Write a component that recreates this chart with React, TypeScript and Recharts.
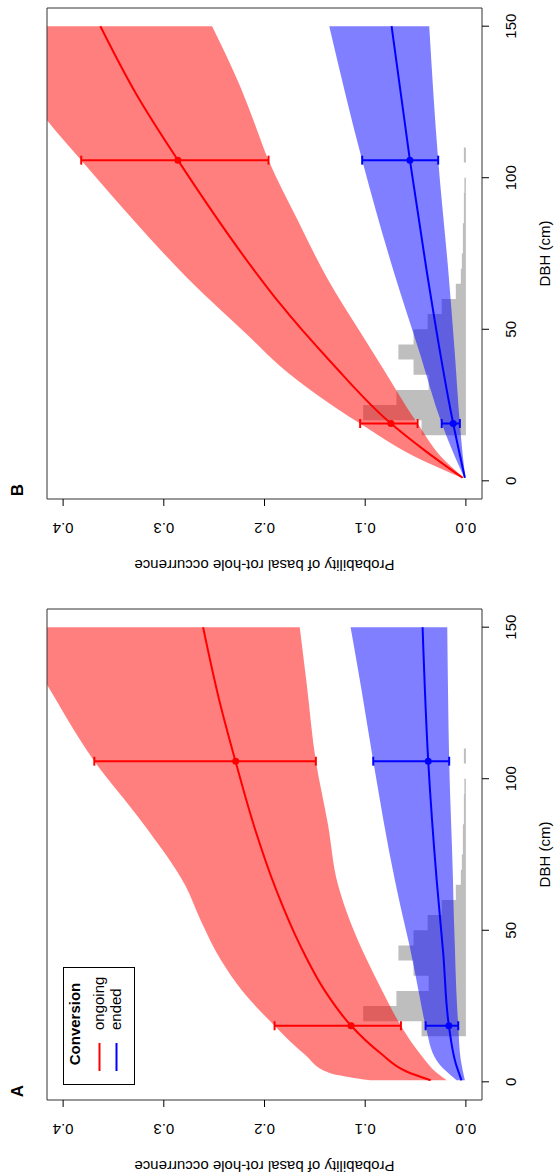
import React from "react";
import {
  ComposedChart,
  Area,
  Line,
  Scatter,
  ErrorBar,
  XAxis,
  YAxis,
  ReferenceArea,
  Legend,
} from "recharts";

const FONT = "'Liberation Sans', Arial, Helvetica, sans-serif";
const RED = "#ff0000";
const BLUE = "#0000ff";

// DBH distribution (5 cm bins), drawn in probability units behind the fits
const histEdges = [15, 20, 25, 30, 35, 40, 45, 50, 55, 60, 65, 70, 75, 80, 85, 90, 95, 100, 105, 110];
const histHeights = [0.044, 0.102, 0.069, 0.037, 0.052, 0.067, 0.052, 0.038, 0.024, 0.01, 0.005, 0.004, 0.003, 0.003, 0.002, 0.002, 0.0015, 0, 0.002];

// ---- panel A ----
const aOnLineDbh = [0.5, 3.4, 9.5, 18.5, 30, 44.6, 63, 84, 106, 126, 150];
const aOnLineP = [0.035, 0.059, 0.085, 0.114, 0.14, 0.164, 0.188, 0.21, 0.229, 0.245, 0.261];
const aOnBandDbh = [0.5, 3, 9, 18.5, 30, 40, 53, 65, 85, 105.8, 131, 150];
const aOnBandLo = [0.019, 0.029, 0.045, 0.0645, 0.083, 0.098, 0.115, 0.127, 0.137, 0.149, 0.158, 0.165];
const aOnBandHi = [0.095, 0.136, 0.16, 0.19, 0.222, 0.243, 0.263, 0.279, 0.32, 0.369, 0.416, 0.45];
const aEndLineDbh = [0.5, 6.2, 18.5, 42.4, 66.5, 105.8, 150];
const aEndLineP = [0.0043, 0.0102, 0.0169, 0.0225, 0.029, 0.0374, 0.043];
const aEndBandDbh = [0.5, 7, 18.5, 30, 45, 55, 66.5, 105.8, 130, 150];
const aEndBandLo = [0.001, 0.005, 0.0076, 0.0095, 0.011, 0.012, 0.0128, 0.0166, 0.0178, 0.0185];
const aEndBandHi = [0.0092, 0.029, 0.04, 0.047, 0.056, 0.063, 0.0705, 0.092, 0.104, 0.1145];
const aPointDbh = [18.5, 105.8];
const aOnPoint = [0.114, 0.2286];
const aOnLo = [0.0645, 0.149];
const aOnHi = [0.19, 0.369];
const aEndPoint = [0.0169, 0.0374];
const aEndLo = [0.0076, 0.0166];
const aEndHi = [0.04, 0.092];

// ---- panel B ----
const bOnLineDbh = [1, 9.8, 18.9, 38.8, 59, 66.7, 105.8, 127.4, 150];
const bOnLineP = [0.0033, 0.04, 0.0744, 0.133, 0.186, 0.204, 0.286, 0.327, 0.363];
const bOnBandDbh = [1, 7, 18.9, 38, 47.5, 67, 86, 105.8, 119, 130, 150];
const bOnBandLo = [0.002, 0.022, 0.048, 0.084, 0.102, 0.138, 0.167, 0.196, 0.211, 0.224, 0.252];
const bOnBandHi = [0.004, 0.045, 0.105, 0.185, 0.215, 0.277, 0.33, 0.382, 0.416, 0.44, 0.49];
const bEndLineDbh = [1, 18.9, 69.4, 105.8, 150];
const bEndLineP = [0.001, 0.0126, 0.039, 0.0556, 0.0738];
const bEndBandDbh = [1, 8, 18.9, 42, 69.4, 105.8, 150];
const bEndBandLo = [0.0005, 0.003, 0.006, 0.011, 0.0175, 0.0275, 0.0364];
const bEndBandHi = [0.0015, 0.011, 0.024, 0.0457, 0.072, 0.103, 0.1357];
const bPointDbh = [18.9, 105.8];
const bOnPoint = [0.0744, 0.286];
const bOnLo = [0.048, 0.196];
const bOnHi = [0.105, 0.382];
const bEndPoint = [0.0126, 0.0556];
const bEndLo = [0.006, 0.0275];
const bEndHi = [0.024, 0.103];

const dbhTicks = [0, 50, 100, 150];
const probTicks = [0, 0.1, 0.2, 0.3, 0.4];

function buildRows(
  onDbh: number[], onP: number[],
  onBDbh: number[], onLo: number[], onHi: number[],
  endDbh: number[], endP: number[],
  endBDbh: number[], endLo: number[], endHi: number[]
) {
  const rows = new Map<number, any>();
  const row = (d: number) => {
    if (!rows.has(d)) rows.set(d, { dbh: d });
    return rows.get(d);
  };
  onDbh.forEach((d, i) => (row(d).onFit = onP[i]));
  onBDbh.forEach((d, i) => (row(d).onBand = [onLo[i], onHi[i]]));
  endDbh.forEach((d, i) => (row(d).endFit = endP[i]));
  endBDbh.forEach((d, i) => (row(d).endBand = [endLo[i], endHi[i]]));
  histEdges.forEach((d, i) => (row(d).hist = i < histHeights.length ? histHeights[i] : 0));
  return [...rows.values()].sort((a, b) => a.dbh - b.dbh);
}

function buildPoints(dbh: number[], p: number[], lo: number[], hi: number[]) {
  return dbh.map((d, i) => ({ dbh: d, p: p[i], err: [p[i] - lo[i], hi[i] - p[i]] }));
}

const rowsA = buildRows(aOnLineDbh, aOnLineP, aOnBandDbh, aOnBandLo, aOnBandHi, aEndLineDbh, aEndLineP, aEndBandDbh, aEndBandLo, aEndBandHi);
const rowsB = buildRows(bOnLineDbh, bOnLineP, bOnBandDbh, bOnBandLo, bOnBandHi, bEndLineDbh, bEndLineP, bEndBandDbh, bEndBandLo, bEndBandHi);
const onPtsA = buildPoints(aPointDbh, aOnPoint, aOnLo, aOnHi);
const endPtsA = buildPoints(aPointDbh, aEndPoint, aEndLo, aEndHi);
const onPtsB = buildPoints(bPointDbh, bOnPoint, bOnLo, bOnHi);
const endPtsB = buildPoints(bPointDbh, bEndPoint, bEndLo, bEndHi);

const ProbTick = ({ x, y, payload }: any) => (
  <text x={x} y={y} transform={`rotate(-90 ${x} ${y})`} textAnchor="middle" fontSize={15} fill="#000">
    {Number(payload.value).toFixed(1)}
  </text>
);

const LegendBox = () => (
  <svg width={118} height={72} style={{ display: "block" }}>
    <rect x={0.5} y={0.5} width={117} height={71} fill="#fff" stroke="#000" />
    <text x={61} y={17} textAnchor="middle" fontWeight="bold" fontSize={15} fill="#000">
      Conversion
    </text>
    <line x1={14} x2={42} y1={36.5} y2={36.5} stroke={RED} strokeWidth={2} />
    <text x={55} y={41} fontSize={15} fill="#000">ongoing</text>
    <line x1={14} x2={42} y1={53.5} y2={53.5} stroke={BLUE} strokeWidth={2} />
    <text x={55} y={58} fontSize={15} fill="#000">ended</text>
  </svg>
);

function Panel({ letter, rows, onPts, endPts, showLegend }: any) {
  const dot = (color: string) => (p: any) => <circle cx={p.cx} cy={p.cy} r={3.5} fill={color} />;
  return (
    <ComposedChart width={590} height={555} data={rows} margin={{ top: 47, right: 24, bottom: 33, left: 35 }}>
      <XAxis
        dataKey="dbh"
        type="number"
        domain={[-6, 156]}
        ticks={dbhTicks}
        allowDataOverflow
        height={40}
        tickSize={7}
        tickMargin={16}
        axisLine={false}
        tickLine={{ stroke: "#000" }}
        tick={{ fill: "#000", fontSize: 15 }}
        label={{
          content: () => (
            <text x={320.5} y={550} textAnchor="middle" fontSize={15} fill="#000">
              DBH (cm)
            </text>
          ),
        }}
      />
      <YAxis
        type="number"
        domain={[-0.016, 0.416]}
        ticks={probTicks}
        allowDataOverflow
        width={40}
        tickSize={7}
        tickMargin={17}
        axisLine={false}
        tickLine={{ stroke: "#000" }}
        tick={ProbTick}
        label={{
          content: () => (
            <g>
              <text x={14} y={264.5} transform="rotate(-90 14 264.5)" textAnchor="middle" fontSize={15} fill="#000">
                Probability of basal rot-hole occurrence
              </text>
              <text x={84} y={23} textAnchor="middle" fontSize={17} fontWeight="bold" fill="#000">
                {letter}
              </text>
            </g>
          ),
        }}
      />
      <Area dataKey="hist" type="stepAfter" fill="#bebebe" fillOpacity={1} stroke="none" baseValue={0} connectNulls isAnimationActive={false} />
      <Area dataKey="onBand" type="monotone" fill={RED} fillOpacity={0.5} stroke="none" connectNulls isAnimationActive={false} />
      <Area dataKey="endBand" type="monotone" fill={BLUE} fillOpacity={0.5} stroke="none" connectNulls isAnimationActive={false} />
      <Line dataKey="onFit" type="monotone" stroke={RED} strokeWidth={2} dot={false} activeDot={false} connectNulls isAnimationActive={false} />
      <Line dataKey="endFit" type="monotone" stroke={BLUE} strokeWidth={2} dot={false} activeDot={false} connectNulls isAnimationActive={false} />
      <Scatter data={onPts} dataKey="p" fill={RED} shape={dot(RED)} isAnimationActive={false}>
        <ErrorBar dataKey="err" direction="y" width={4.5} stroke={RED} strokeWidth={2} />
      </Scatter>
      <Scatter data={endPts} dataKey="p" fill={BLUE} shape={dot(BLUE)} isAnimationActive={false}>
        <ErrorBar dataKey="err" direction="y" width={4.5} stroke={BLUE} strokeWidth={2} />
      </Scatter>
      <ReferenceArea x1={-6} x2={156} y1={-0.016} y2={0.416} fill="none" stroke="#333" strokeWidth={1} ifOverflow="visible" />
      {showLegend && (
        <Legend
          content={() => <LegendBox />}
          layout="vertical"
          align="center"
          verticalAlign="middle"
          wrapperStyle={{ left: 90, top: 63, width: 118, height: 72 }}
        />
      )}
    </ComposedChart>
  );
}

export default function App() {
  return (
    <div style={{ position: "absolute", left: 0, top: 0, width: 555, height: 1175, overflow: "hidden", background: "#fff" }}>
      <div
        style={{
          position: "absolute",
          left: 0,
          top: 0,
          width: 1175,
          height: 555,
          transformOrigin: "0 0",
          transform: "translate(0px, 1175px) rotate(-90deg)",
          fontFamily: FONT,
        }}
      >
        <div style={{ position: "absolute", left: 0, top: 0 }}>
          <Panel letter="A" rows={rowsA} onPts={onPtsA} endPts={endPtsA} showLegend />
        </div>
        <div style={{ position: "absolute", left: 601, top: 0 }}>
          <Panel letter="B" rows={rowsB} onPts={onPtsB} endPts={endPtsB} showLegend={false} />
        </div>
      </div>
    </div>
  );
}
